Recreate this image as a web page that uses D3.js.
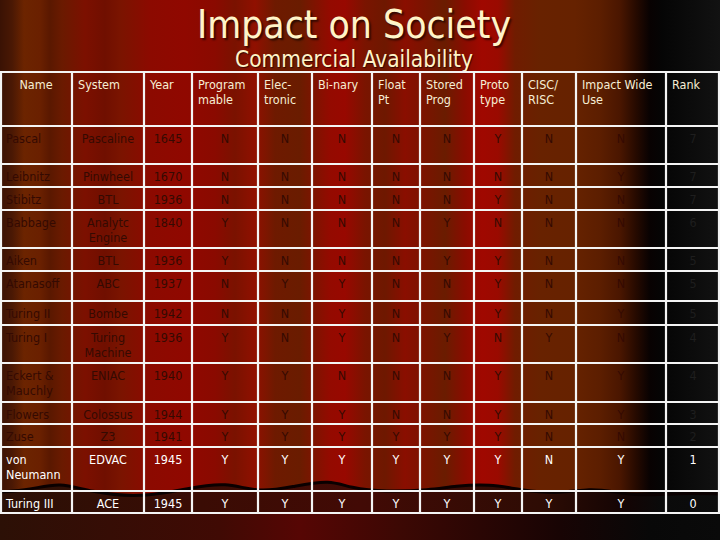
<!DOCTYPE html>
<html><head><meta charset="utf-8">
<script src="https://cdn.jsdelivr.net/npm/d3@7"></script>
<style>html,body{margin:0;padding:0;background:#000;}svg{display:block;}</style>
</head><body><div id="chart"></div>
<script>
// ---- data ----
const title = "Impact on Society";
const subtitle = "Commercial Availability";
const headers = ["Name","System","Year","Program\nmable","Elec-\ntronic","Bi-nary","Float\nPt","Stored\nProg","Proto\ntype","CISC/\nRISC","Impact Wide\nUse","Rank"];
const names = ["Pascal","Leibnitz","Stibitz","Babbage","Aiken","Atanasoff","Turing II","Turing I","Eckert &\nMauchly","Flowers","Zuse","von\nNeumann","Turing III"];
const systems = ["Pascaline","Pinwheel","BTL","Analytc\nEngine","BTL","ABC","Bombe","Turing\nMachine","ENIAC","Colossus","Z3","EDVAC","ACE"];
const years = [1645,1670,1936,1840,1936,1937,1942,1936,1940,1944,1941,1945,1945];
const programmable = ["N","N","N","Y","Y","N","N","Y","Y","Y","Y","Y","Y"];
const electronic   = ["N","N","N","N","N","Y","N","N","Y","Y","Y","Y","Y"];
const binary       = ["N","N","N","N","N","Y","Y","Y","N","Y","Y","Y","Y"];
const floatPt      = ["N","N","N","N","N","N","N","N","N","N","Y","Y","Y"];
const storedProg   = ["N","N","N","Y","Y","N","N","Y","N","N","Y","Y","Y"];
const prototype    = ["Y","N","Y","N","Y","Y","Y","N","Y","Y","Y","Y","Y"];
const ciscRisc     = ["N","N","N","N","N","N","N","Y","N","N","N","N","Y"];
const impactWide   = ["N","Y","N","N","N","N","Y","N","Y","Y","N","Y","Y"];
const rank = [7,7,7,6,5,5,5,4,4,3,2,1,0];

// ---- layout (not data) ----
const W = 720, H = 540;
const colWidths = [72,72,48,66,54,60,48,54,48,54,90,54];
const tableTop = 72, headerH = 54;
const rowHeights = [38,23,23,38,23,30,24,38,39,22,23,44,22];
const lightRows = 2; // last rows drawn in white text

const columns = [names, systems, years, programmable, electronic, binary, floatPt, storedProg, prototype, ciscRisc, impactWide, rank];
const rows = names.map((_, i) => columns.map(c => String(c[i])));

const svg = d3.select("#chart").append("svg").attr("width", W).attr("height", H);
const defs = svg.append("defs");

// curtain background (stops in px along the width)
const curtain = defs.append("linearGradient").attr("id","curtain").attr("gradientUnits","userSpaceOnUse")
  .attr("x1",0).attr("x2",W).attr("y1",0).attr("y2",0);
[[0,"#3a1204"],[12,"#4a1804"],[24,"#6c2400"],[40,"#6a2000"],[50,"#5a1800"],[62,"#6a1a00"],[85,"#7c1000"],[105,"#700f00"],[120,"#7a1400"],[150,"#8c0a00"],[185,"#900800"],[215,"#8a0a00"],[235,"#7a1200"],[255,"#901000"],[275,"#6e1a00"],[300,"#6a1c00"],[330,"#940a00"],[345,"#980800"],[365,"#7a1400"],[385,"#6e1800"],[405,"#8a0e00"],[425,"#7a1400"],[445,"#6a1c00"],[465,"#8a0c00"],[482,"#a00800"],[498,"#9a0a00"],[515,"#701c00"],[540,"#682200"],[575,"#662200"],[600,"#5c1e00"],[620,"#4a1600"],[636,"#260a00"],[650,"#080202"],[662,"#050505"],[720,"#121212"]]
  .forEach(([o,c]) => curtain.append("stop").attr("offset",o/W).attr("stop-color",c));
svg.append("rect").attr("width",W).attr("height",H).attr("fill","url(#curtain)");

// lower curtain hem
const hemG = defs.append("linearGradient").attr("id","hemg").attr("gradientUnits","userSpaceOnUse").attr("x1",0).attr("x2",W).attr("y1",0).attr("y2",0);
[[0,"#2a1006"],[200,"#3a0c04"],[360,"#420a05"],[540,"#2e0c04"],[630,"#120404"],[660,"#0a0a0a"],[720,"#0c0c0c"]]
  .forEach(([o,c]) => hemG.append("stop").attr("offset",o/W).attr("stop-color",c));
const hemPts = [[0,492],[30,490],[60,482],[90,492],[140,498],[190,488],[225,482],[260,493],[295,486],[330,480],[350,488],[385,492],[430,490],[455,486],[490,484],[520,490],[560,494],[590,488],[615,492],[640,496],[680,493],[720,494]];
const hemLine = d3.line().curve(d3.curveBasis);
const hemPath = hemLine(hemPts) + ` L${W},${H} L0,${H} Z`;
svg.append("path").attr("d", hemPath).attr("fill","url(#hemg)");
svg.append("path").attr("d", hemLine(hemPts)).attr("fill","none").attr("stroke","#0a0000").attr("stroke-width",3);
// bottom fade
const botG = defs.append("linearGradient").attr("id","botg").attr("gradientUnits","userSpaceOnUse").attr("x1",0).attr("x2",W).attr("y1",0).attr("y2",0);
[[0,"#2c1006"],[220,"#400a04"],[300,"#560604"],[400,"#3c0804"],[560,"#180404"],[650,"#080808"],[720,"#0a0a0a"]].forEach(([o,c]) => botG.append("stop").attr("offset",o/W).attr("stop-color",c));
svg.append("rect").attr("x",0).attr("y",514).attr("width",W).attr("height",26).attr("fill","url(#botg)");

const font = "Tahoma,'DejaVu Sans Condensed','DejaVu Sans',sans-serif";

// titles
svg.append("text").attr("x",354).attr("y",38).attr("text-anchor","middle")
  .attr("font-family",font).attr("font-size",39).attr("fill","#fff4c8")
  .attr("textLength",314).attr("lengthAdjust","spacingAndGlyphs")
  .style("text-shadow","2px 2px 2px rgba(0,0,0,0.6)").text(title);
svg.append("text").attr("x",354).attr("y",67).attr("text-anchor","middle")
  .attr("font-family",font).attr("font-size",23).attr("fill","#fff4c8")
  .attr("textLength",238).attr("lengthAdjust","spacingAndGlyphs")
  .style("text-shadow","1px 1px 1px rgba(0,0,0,0.6)").text(subtitle);

// positions through scales
const colEdges = [0, ...d3.cumsum(colWidths)];
const rowEdges = [tableTop, tableTop + headerH, ...Array.from(d3.cumsum(rowHeights), v => tableTop + headerH + v)];
const xCol = d3.scaleOrdinal().domain(d3.range(colWidths.length)).range(colEdges.slice(0,-1));
const yRow = d3.scaleOrdinal().domain(d3.range(rowHeights.length + 1)).range(rowEdges.slice(0,-1));

const lineH = 15;
function drawText(g, str, x, y, anchor, fill, size) {
  const t = g.append("text").attr("x",x).attr("y",y).attr("text-anchor",anchor)
    .attr("font-family",font).attr("font-size",size).attr("fill",fill);
  str.split("\n").forEach((s,k) => t.append("tspan").attr("x",x).attr("dy",k===0?0:lineH).text(s));
}

// header
const hg = svg.append("g");
headers.forEach((h,j) => {
  const x0 = xCol(j), w = colWidths[j];
  if (j === 0) drawText(hg, h, x0 + w/2, tableTop + 17, "middle", "#f6eed4", 12.5);
  else drawText(hg, h, x0 + 6, tableTop + 17, "start", "#f6eed4", 12.5);
});

// body
const bg = svg.append("g");
rows.forEach((r,i) => {
  const y0 = yRow(i+1);
  const light = i >= rows.length - lightRows;
  r.forEach((v,j) => {
    const x0 = xCol(j), w = colWidths[j];
    let fill = light ? "#ffffff" : (j === colWidths.length-1 ? "#1e1e1e" : "#340a02");
    if (j === 0) drawText(bg, v, x0 + 6, y0 + 17, "start", fill, 12.5);
    else drawText(bg, v, x0 + w/2, y0 + 17, "middle", fill, 12.5);
  });
});

// grid lines
const grid = svg.append("g").attr("stroke","#f4f4f4").attr("stroke-width",2.2);
rowEdges.forEach(y => grid.append("line").attr("x1",0).attr("x2",W).attr("y1",y).attr("y2",y));
colEdges.forEach((x,k) => {
  const xx = k === 0 ? 1 : (k === colEdges.length-1 ? W-1 : x);
  grid.append("line").attr("x1",xx).attr("x2",xx).attr("y1",tableTop).attr("y2",rowEdges[rowEdges.length-1]);
});
</script>
</body></html>
